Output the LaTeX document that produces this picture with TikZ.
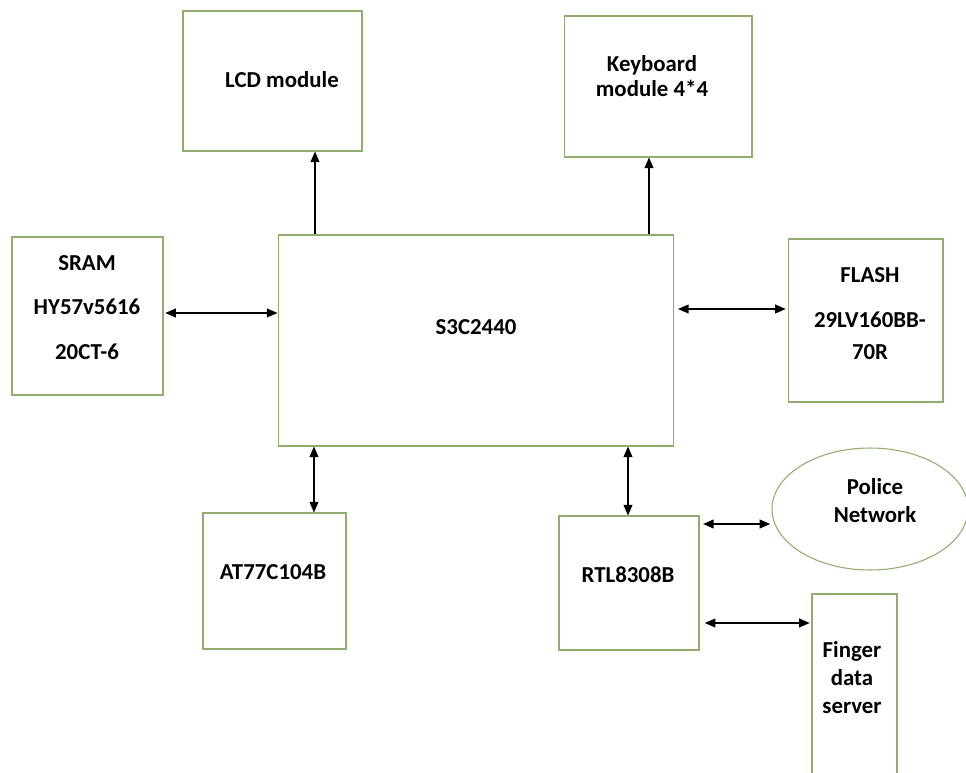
\documentclass[tikz,border=0pt]{standalone}
\usepackage{fontspec}
\setmainfont{Carlito}
\usepackage{tikz}
\usetikzlibrary{shapes}
\usetikzlibrary{arrows.meta}
\usetikzlibrary{positioning}
\definecolor{boxgreen}{RGB}{146,172,112}

\tikzset{
	blockbox/.style={rectangle, draw=boxgreen, line width=0.6pt, inner sep=0pt},
	blocktext/.style={font=\bfseries\fontsize{13}{16}\selectfont, align=center, inner sep=0pt},
	link/.style={line width=0.7pt, {Triangle[length=6pt,width=5pt]}-{Triangle[length=6pt,width=5pt]}},
	uplink/.style={line width=0.7pt, -{Triangle[length=6pt,width=5pt]}}
}

\begin{document}
\begin{tikzpicture}[x=0.02cm, y=-0.02cm]
	\clip (0,0) rectangle (966,773);
	\fill[white] (0,0) rectangle (966,773);

	\node[blockbox, minimum width=3.58cm, minimum height=2.80cm] (lcd) at (272.5,81) {};
	\node[blockbox, minimum width=3.76cm, minimum height=2.82cm] (kbd) at (658,86.5) {};
	\node[blockbox, minimum width=7.92cm, minimum height=4.22cm] (cpu) at (476,340.5) {};
	\node[blockbox, minimum width=3.02cm, minimum height=3.16cm] (sram) at (87.5,316) {};
	\node[blockbox, minimum width=3.10cm, minimum height=3.26cm] (flash) at (865.5,320.5) {};
	\node[blockbox, minimum width=2.86cm, minimum height=2.72cm] (at) at (274.5,581) {};
	\node[blockbox, minimum width=2.80cm, minimum height=2.68cm] (rtl) at (629,583) {};
	\node[ellipse, draw=boxgreen, line width=0.6pt, minimum width=3.92cm, minimum height=2.44cm, inner sep=0pt] (police) at (870,509) {};
	\node[blockbox, minimum width=1.70cm, minimum height=4.40cm] (finger) at (854.5,704) {};

	\node[blocktext] at (282,80) {LCD module};
	\node[blocktext] at (652,76) {Keyboard\\[-2pt]module 4*4};
	\node[blocktext] at (476,327) {S3C2440};
	\node[blocktext] at (87,307.5) {SRAM\\[9.5pt]HY57v5616\\[9.5pt]20CT-6};
	\node[blocktext] at (870,313.5) {FLASH\\[9.5pt]29LV160BB-\\[2pt]70R};
	\node[blocktext] at (273,572) {AT77C104B};
	\node[blocktext] at (628,575) {RTL8308B};
	\node[blocktext] at (875,501) {Police\\Network};
	\node[blocktext] at (852,677.5) {Finger\\data\\server};

	\draw[uplink]  (cpu.north -| 315,0) -- (lcd.south -| 315,0);
	\draw[uplink]  (cpu.north -| 649,0) -- (kbd.south -| 649,0);
	\draw[link, shorten <=1pt]  (sram.east |- 0,313) -- (cpu.west |- 0,313);
	\draw[link, shorten <=2pt, shorten >=1pt]  (cpu.east |- 0,309) -- (flash.west |- 0,309);
	\draw[link]  (cpu.south -| 314,0) -- (at.north -| 314,0);
	\draw[link]  (cpu.south -| 628,0) -- (rtl.north -| 628,0);
	\draw[link, shorten <=2pt, shorten >=1pt]  (rtl.east |- 0,524) -- (772,524);
	\draw[link, shorten <=3pt, shorten >=1pt]  (rtl.east |- 0,623) -- (finger.west |- 0,623);
\end{tikzpicture}
\end{document}
